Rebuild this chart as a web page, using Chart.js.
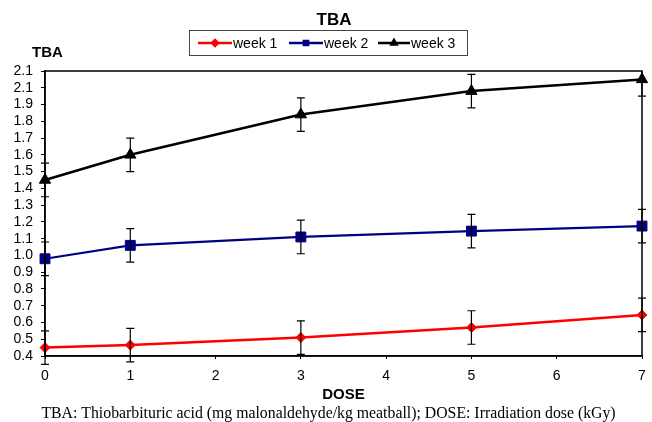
<!DOCTYPE html>
<html><head><meta charset="utf-8">
<script src="https://cdn.jsdelivr.net/npm/chart.js@4/dist/chart.umd.min.js"></script>
<style>html,body{margin:0;padding:0;background:#fff;}#wrap{width:652px;height:422px;position:relative;}</style>
</head><body><div id="wrap"><canvas id="c" width="652" height="422"></canvas></div>
<script>
const doses = [0, 1, 3, 5, 7];
const week1 = [0.45, 0.465, 0.51, 0.57, 0.645];
const week2 = [0.98, 1.06, 1.11, 1.145, 1.175];
const week3 = [1.45, 1.60, 1.84, 1.98, 2.05];
const err1 = [0.1, 0.1, 0.1, 0.1, 0.1];
const err2 = [0.1, 0.1, 0.1, 0.1, 0.1];
const err3 = [0.1, 0.1, 0.1, 0.1, 0.1];
const yTickLabels = ['0.4','0.5','0.6','0.7','0.8','0.9','1.0','1.1','1.2','1.3','1.4','1.5','1.6','1.7','1.8','1.9','2.1','2.1'];
const seriesNames = ['week 1', 'week 2', 'week 3'];
const chartTitle = 'TBA';
const yTitle = 'TBA';
const xTitle = 'DOSE';
const caption = 'TBA: Thiobarbituric acid (mg malonaldehyde/kg meatball); DOSE: Irradiation dose (kGy)';

const colors = ['#ff0000', '#000080', '#000000'];
const styles = ['rectRot', 'rect', 'triangle'];
const radii = [5, 7, 6.5];
const errs = [err1, err2, err3];
const SANS = '"Liberation Sans", Arial, sans-serif';

function pts(arr){ return doses.map((d,i)=>({x:d, y:arr[i]})); }

const errorBars = {
  id:'errorBars',
  afterDatasetsDraw(chart){
    const ctx = chart.ctx, xs = chart.scales.x, ys = chart.scales.y;
    ctx.save();
    ctx.strokeStyle = '#000'; ctx.lineWidth = 1.2;
    chart.data.datasets.forEach((ds, di) => {
      const e = errs[di];
      ds.data.forEach((p, i) => {
        const px = xs.getPixelForValue(p.x);
        const top = ys.getPixelForValue(Math.min(p.y + e[i], 2.1));
        const bot = ys.getPixelForValue(p.y - e[i]);
        ctx.beginPath();
        ctx.moveTo(px, top); ctx.lineTo(px, bot);
        if (p.y + e[i] <= 2.1) { ctx.moveTo(px-4, top); ctx.lineTo(px+4, top); }
        ctx.moveTo(px-4, bot); ctx.lineTo(px+4, bot);
        ctx.stroke();
      });
    });
    ctx.restore();
  }
};

const decor = {
  id:'decor',
  afterDraw(chart){
    const ctx = chart.ctx, a = chart.chartArea;
    ctx.save();
    ctx.strokeStyle = '#000'; ctx.lineWidth = 1.5;
    ctx.strokeRect(a.left, a.top, a.right - a.left, a.bottom - a.top);
    ctx.fillStyle = '#000';
    ctx.textBaseline = 'middle';
    ctx.textAlign = 'center';
    ctx.font = 'bold 17px ' + SANS;
    ctx.fillText(chartTitle, 334, 20);
    ctx.font = 'bold 15px ' + SANS;
    ctx.fillText(yTitle, 47.5, 53);
    ctx.font = '15.8px "Liberation Serif", "Times New Roman", serif';
    ctx.fillText(caption, 328.5, 414);
    // legend
    ctx.lineWidth = 1; ctx.strokeStyle = '#444';
    ctx.strokeRect(189.5, 30.5, 278, 25);
    ctx.font = '14px ' + SANS;
    ctx.textAlign = 'left';
    const lx = [198, 289, 378];
    const lw = [34, 34, 32];
    seriesNames.forEach((n, i) => {
      const y = 43;
      ctx.strokeStyle = colors[i]; ctx.fillStyle = colors[i]; ctx.lineWidth = 2.5;
      ctx.beginPath(); ctx.moveTo(lx[i], y); ctx.lineTo(lx[i]+lw[i], y); ctx.stroke();
      Chart.helpers.drawPoint(ctx, {pointStyle: styles[i], radius: 3, borderWidth: 1}, lx[i]+lw[i]/2, y);
      ctx.fillStyle = '#000';
      ctx.fillText(n, lx[i]+lw[i]+1, y+1);
    });
    ctx.restore();
  }
};

new Chart(document.getElementById('c'), {
  type: 'line',
  data: {
    datasets: seriesNames.map((n, i) => ({
      label: n,
      data: pts([week1, week2, week3][i]),
      borderColor: colors[i],
      backgroundColor: colors[i],
      borderWidth: i === 1 ? 2.2 : 2.5,
      pointStyle: styles[i],
      pointRadius: radii[i],
      pointBorderWidth: 1,
      tension: 0,
      clip: false
    }))
  },
  options: {
    responsive: false,
    animation: false,
    devicePixelRatio: 1,
    layout: { padding: { top: 71, right: 10, bottom: 18, left: 0 } },
    plugins: { legend: { display: false }, title: { display: false }, tooltip: { enabled: false } },
    scales: {
      x: {
        type: 'linear', min: 0, max: 7,
        ticks: { stepSize: 1, color: '#000', padding: 9, font: { family: SANS, size: 14 } },
        grid: { drawOnChartArea: false, drawTicks: true, tickLength: 3, color: '#000' },
        border: { color: '#000', width: 1.5 },
        title: { display: true, text: xTitle, color: '#000', padding: 0, font: { family: SANS, size: 15, weight: 'bold' } },
        afterFit(s){ s.height = 48; s.paddingRight = 0; s.paddingLeft = 0; }
      },
      y: {
        type: 'linear', min: 0.4, max: 2.1,
        afterBuildTicks(s){ s.ticks = yTickLabels.map((l, i) => ({ value: 0.4 + i * 0.1 })); },
        ticks: { autoSkip: false, color: '#000', padding: 8, font: { family: SANS, size: 14 },
          callback: (v, i) => yTickLabels[i] },
        grid: { drawOnChartArea: false, drawTicks: true, tickLength: 4, color: '#000' },
        border: { color: '#000', width: 1.5 },
        afterFit(s){ s.width = 45; s.paddingTop = 0; s.paddingBottom = 0; }
      }
    }
  },
  plugins: [errorBars, decor]
});
</script></body></html>
